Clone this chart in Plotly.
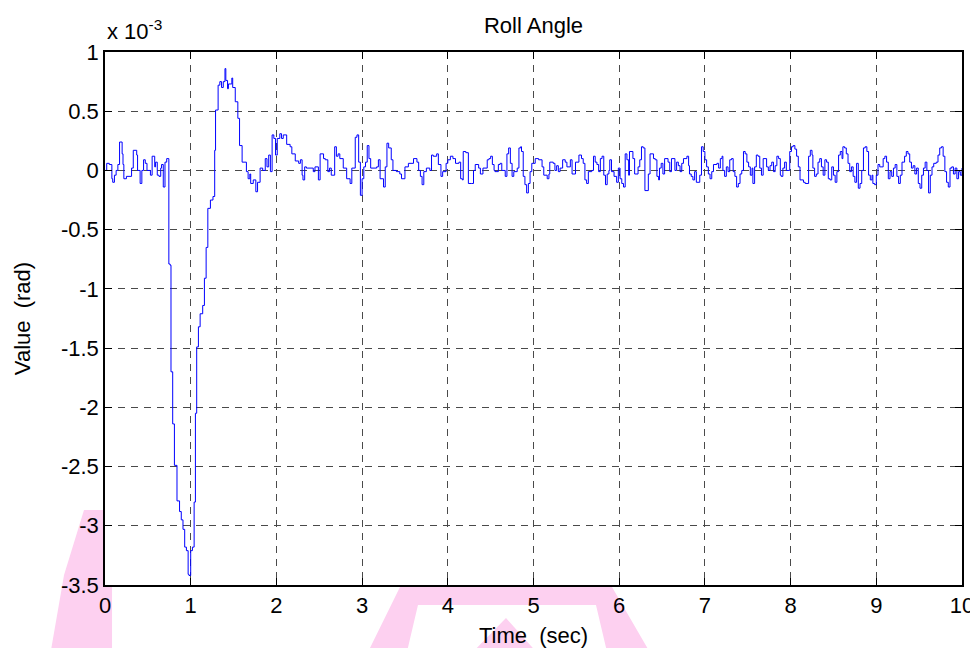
import plotly.graph_objects as go

# Time (s) and roll angle (units of 1e-3 rad)
time_s = [
    0.00, 0.02, 0.05, 0.08, 0.09, 0.11, 0.13, 0.15, 0.17, 0.20, 0.21, 0.22, 0.25, 0.31, 0.33,
    0.37, 0.38, 0.41, 0.43, 0.45, 0.47, 0.49, 0.53, 0.55, 0.58, 0.59, 0.61, 0.63, 0.65, 0.66,
    0.68, 0.70, 0.72, 0.745, 0.76, 0.77, 0.79, 0.81, 0.84, 0.87, 0.89, 0.91, 0.93, 0.95, 0.97,
    0.98, 1.00, 1.02, 1.04, 1.055, 1.07, 1.09, 1.11, 1.14, 1.16, 1.18, 1.20, 1.23, 1.26, 1.28,
    1.29, 1.32, 1.34, 1.36, 1.38, 1.40, 1.41, 1.43, 1.44, 1.48, 1.49, 1.52, 1.55, 1.57, 1.60,
    1.65, 1.67, 1.69, 1.70, 1.73, 1.76, 1.78, 1.81, 1.84, 1.87, 1.89, 1.91, 1.93, 1.95, 1.97,
    1.99,
    2.01, 2.04, 2.06, 2.08, 2.12, 2.16, 2.18, 2.22, 2.26, 2.28, 2.30, 2.31, 2.33, 2.35, 2.43,
    2.45, 2.49, 2.51, 2.55, 2.57, 2.60, 2.62, 2.64, 2.68, 2.70, 2.72, 2.74, 2.78, 2.82, 2.86,
    2.88, 2.92, 2.94, 2.96, 2.98, 3.00, 3.02, 3.04, 3.06, 3.08, 3.10, 3.17, 3.19, 3.21, 3.25,
    3.27, 3.29, 3.31, 3.34, 3.36, 3.40, 3.44, 3.46, 3.50, 3.54, 3.60, 3.64, 3.66, 3.68, 3.70,
    3.72, 3.75, 3.79, 3.81, 3.83, 3.87, 3.89, 3.92, 3.94, 3.98,
    4.00, 4.03, 4.06, 4.09, 4.13, 4.15, 4.17, 4.18, 4.21, 4.24, 4.28, 4.30, 4.32, 4.36, 4.38,
    4.41, 4.46, 4.48, 4.50, 4.52, 4.54, 4.55, 4.59, 4.61, 4.63, 4.67, 4.69, 4.71, 4.73, 4.75,
    4.77, 4.81, 4.83, 4.85, 4.86, 4.88, 4.90, 4.92, 4.94, 4.96, 4.98,
    5.02, 5.06, 5.10, 5.12, 5.16, 5.18, 5.19, 5.23, 5.25, 5.27, 5.29, 5.31, 5.34, 5.37, 5.39,
    5.43, 5.45, 5.49, 5.53, 5.56, 5.58, 5.60, 5.62, 5.64, 5.68, 5.70, 5.72, 5.74, 5.76, 5.78,
    5.80, 5.82, 5.84, 5.86, 5.88,
    5.89, 5.91, 5.94, 5.97, 5.99, 6.01, 6.03, 6.05, 6.07, 6.09, 6.11, 6.12, 6.16, 6.18, 6.22,
    6.24, 6.26, 6.28, 6.30, 6.34, 6.36, 6.40, 6.42, 6.44, 6.46, 6.47, 6.49, 6.51, 6.53, 6.57,
    6.59, 6.61, 6.65, 6.67, 6.69, 6.71, 6.73, 6.75, 6.79, 6.81, 6.82, 6.84, 6.86, 6.88, 6.90,
    6.94, 6.96, 6.98, 7.00, 7.02, 7.04, 7.06, 7.08, 7.10, 7.14, 7.16, 7.18, 7.20, 7.21, 7.23,
    7.25, 7.27, 7.29, 7.31, 7.33, 7.35, 7.37, 7.39, 7.41, 7.43, 7.45, 7.47, 7.49, 7.51, 7.53,
    7.55, 7.56, 7.58, 7.60, 7.62, 7.64, 7.66, 7.68, 7.72, 7.74, 7.76, 7.78, 7.80, 7.82, 7.84,
    7.86, 7.88, 7.89, 7.91, 7.93, 7.95,
    7.99, 8.01, 8.03, 8.05, 8.07, 8.09, 8.11, 8.15, 8.17, 8.21, 8.23, 8.25, 8.26, 8.28, 8.30,
    8.32, 8.34, 8.36, 8.38, 8.40, 8.42, 8.44, 8.46, 8.48, 8.50, 8.52, 8.54, 8.56, 8.58, 8.60,
    8.61, 8.63, 8.65, 8.67, 8.69, 8.71, 8.73, 8.75, 8.77, 8.79, 8.81, 8.83, 8.85, 8.87, 8.89,
    8.91, 8.93, 8.95, 8.96, 8.98, 9.00, 9.02, 9.04, 9.08, 9.10, 9.12, 9.14, 9.16, 9.18, 9.20,
    9.22, 9.24, 9.26, 9.28, 9.30, 9.33, 9.35, 9.37, 9.39, 9.41, 9.43, 9.45, 9.47, 9.49, 9.51,
    9.53, 9.55, 9.57, 9.59, 9.61, 9.63, 9.65, 9.67, 9.70, 9.72, 9.74, 9.76, 9.78, 9.80, 9.82,
    9.84, 9.86, 9.88, 9.90, 9.92, 9.94, 9.96, 9.98, 10.00,
]

roll_e3 = [
    0.00, 0.06, 0.05, -0.07, -0.10, -0.04, 0.00, 0.05, 0.24, 0.14, 0.05, -0.07, -0.05, 0.02, 0.17,
    0.13, 0.00, -0.11, 0.00, 0.09, 0.06, 0.00, -0.04, 0.12, 0.03, 0.07, -0.04, -0.05, 0.02, 0.05,
    -0.14, 0.07, 0.10, -0.79, -0.80, -1.70, -2.14, -2.49, -2.79, -2.88, -2.95, -3.03, -3.18, -3.21, -3.41,
    -3.42, -3.21, -3.18, -2.80, -2.05, -1.49, -1.32, -1.21, -1.14, -0.91, -0.65, -0.32, -0.25, -0.22, 0.17,
    0.51, 0.72, 0.75, 0.70, 0.75, 0.86, 0.76, 0.69, 0.73, 0.78, 0.70, 0.58, 0.44, 0.21, 0.07,
    -0.01, -0.07, -0.03, -0.11, -0.08, -0.18, -0.10, 0.02, 0.00, 0.10, 0.03, 0.13, -0.01, 0.30, 0.27,
    0.13,
    0.27, 0.31, 0.27, 0.30, 0.22, 0.20, 0.14, 0.08, 0.06, 0.09, -0.04, -0.08, 0.03, 0.02, -0.01,
    0.03, -0.08, 0.14, 0.10, 0.09, -0.01, 0.02, -0.04, 0.20, 0.12, 0.14, 0.10, 0.02, -0.07, -0.11,
    0.02, 0.28, 0.30, 0.07, -0.21, -0.07, 0.03, 0.07, 0.21, 0.10, 0.02, 0.03, 0.09, -0.07, -0.14,
    0.03, 0.23, 0.19, 0.09, 0.00, -0.01, -0.03, -0.07, 0.03, 0.06, 0.10, 0.07, 0.00, -0.05, -0.12,
    -0.01, 0.02, 0.00, 0.13, 0.12, 0.14, 0.05, -0.05, -0.01, 0.06,
    0.09, 0.12, 0.10, 0.06, 0.07, -0.07, -0.08, 0.16, 0.15, -0.11, -0.11, 0.00, 0.05, 0.02, -0.03,
    0.02, 0.09, 0.10, 0.12, 0.05, 0.00, -0.01, 0.05, 0.06, 0.00, -0.05, 0.14, 0.19, 0.06, -0.05,
    -0.01, 0.02, 0.19, 0.20, 0.16, -0.05, -0.12, -0.19, -0.11, -0.01, 0.06,
    0.10, 0.09, 0.03, -0.04, -0.07, -0.03, 0.07, 0.06, 0.00, 0.04, -0.01, 0.02, 0.09, 0.07, 0.03,
    0.09, -0.03, 0.07, 0.13, 0.10, 0.06, -0.08, -0.11, -0.01, 0.00, 0.12, 0.07, 0.05, -0.01, 0.10,
    0.12, -0.04, -0.12, -0.03, 0.00,
    0.09, -0.01, -0.05, -0.10, 0.02, -0.07, -0.11, -0.14, 0.14, 0.09, -0.04, 0.16, 0.10, -0.03, 0.03,
    0.09, 0.20, 0.19, -0.17, -0.03, 0.14, 0.10, 0.09, -0.05, -0.08, 0.02, 0.06, -0.03, 0.10, 0.07,
    -0.01, 0.10, 0.00, 0.07, 0.04, -0.01, 0.06, 0.10, 0.12, 0.04, -0.03, -0.05, -0.08, -0.01, -0.10,
    -0.04, 0.20, 0.16, 0.09, 0.03, -0.03, -0.07, -0.01, 0.05, 0.06, 0.02, 0.10, 0.12, 0.00, -0.05,
    0.03, -0.01, 0.09, 0.10, -0.01, -0.05, -0.14, -0.11, -0.03, 0.00, 0.16, 0.14, 0.07, 0.03, -0.04,
    0.02, -0.11, 0.03, 0.13, 0.12, 0.02, -0.04, 0.10, 0.03, 0.00, 0.04, 0.07, -0.01, 0.04, 0.12,
    0.10, -0.04, -0.05, 0.02, 0.07, 0.00,
    0.16, 0.20, 0.21, 0.18, 0.12, 0.03, -0.08, -0.10, -0.11, 0.12, 0.17, 0.13, 0.02, -0.05, -0.03,
    0.07, 0.10, 0.03, -0.04, 0.09, 0.07, -0.07, -0.08, 0.03, -0.04, -0.10, -0.01, 0.13, 0.16, 0.10,
    0.20, 0.19, 0.14, 0.06, -0.01, 0.03, -0.05, -0.10, 0.06, -0.15, -0.11, 0.00, 0.19, 0.20, 0.16,
    -0.04, -0.08, -0.04, -0.11, -0.12, -0.04, 0.05, 0.03, 0.10, 0.12, 0.07, -0.07, -0.01, -0.05, 0.02,
    0.05, -0.05, -0.11, -0.04, 0.07, 0.12, 0.16, 0.14, 0.07, 0.02, 0.04, -0.03, 0.02, -0.11, -0.15,
    -0.04, 0.02, 0.07, 0.00, -0.19, -0.04, 0.03, 0.06, 0.07, 0.13, 0.19, 0.20, 0.12, -0.01, -0.10,
    -0.14, 0.02, 0.03, -0.03, 0.02, -0.07, -0.01, -0.04, 0.02,
]

x_ticks = [0, 1, 2, 3, 4, 5, 6, 7, 8, 9, 10]
y_ticks = [1, 0.5, 0, -0.5, -1, -1.5, -2, -2.5, -3, -3.5]
y_tick_text = ["1", "0.5", "0", "-0.5", "-1", "-1.5", "-2", "-2.5", "-3", "-3.5"]

FONT = "Arial, Liberation Sans, Helvetica, sans-serif"

fig = go.Figure()
fig.add_trace(go.Scatter(
    x=time_s, y=roll_e3, mode="lines",
    line=dict(color="#0000FF", width=1, shape="hv"),
    showlegend=False, hoverinfo="skip",
))

# The page has an 8px body margin, so the figure is offset by 8px on screen.
OFF = 8
W, H = 978, 648
# desired on-screen plot-area edges
L, R, T, B = 105, 962, 52, 585
ml, mr, mt, mb = L - OFF, W - R + OFF, T - OFF, H - B + OFF

def px(x):
    return (x - L) / (R - L)
def py(y):
    return (B - y) / (B - T)

def path(points):
    return "M " + " L ".join(f"{px(a):.4f},{py(b):.4f}" for a, b in points) + " Z"

pink = "rgba(253,208,240,1)"
watermark = [
    [(50, 656), (64, 575), (84, 510), (105, 510), (105, 585), (112, 585), (112, 656)],
    [(366, 656), (400, 587), (612, 587), (652, 656), (608, 656), (596, 605), (418, 605), (406, 656)],
    [(469, 656), (506, 618), (540, 656)],
]
shapes = [dict(type="path", xref="paper", yref="paper", path=path(p),
               fillcolor=pink, line=dict(width=0), layer="below") for p in watermark]

fig.update_layout(
    width=W, height=H,
    margin=dict(l=ml, r=mr, t=mt, b=mb, autoexpand=False),
    paper_bgcolor="white", plot_bgcolor="white",
    font=dict(family=FONT, size=22, color="black"),
    title=dict(text="Roll Angle", x=(L - OFF + (R - OFF)) / 2 / W, xanchor="center",
               y=1 - (25 - OFF) / H, yanchor="middle", font=dict(size=22)),
    shapes=shapes,
    xaxis=dict(
        range=[0, 10], tickvals=x_ticks, ticktext=[str(v) for v in x_ticks],
        showline=True, linecolor="black", linewidth=1.5, mirror="ticks",
        ticks="inside", ticklen=7, tickcolor="black", tickwidth=1,
        showgrid=True, gridcolor="#4a4a4a", gridwidth=1, griddash="7px,6px",
        zeroline=False, tickfont=dict(size=22), automargin=False,
        title=dict(text="Time\u00a0\u00a0(sec)", standoff=10, font=dict(size=22)),
    ),
    yaxis=dict(
        range=[-3.5, 1], tickvals=y_ticks, ticktext=y_tick_text,
        showline=True, linecolor="black", linewidth=1.5, mirror="ticks",
        ticks="inside", ticklen=7, tickcolor="black", tickwidth=1,
        showgrid=True, gridcolor="#4a4a4a", gridwidth=1, griddash="7px,6px",
        zeroline=False, tickfont=dict(size=22), automargin=False,
        title=dict(text="Value\u00a0\u00a0(rad)", standoff=24, font=dict(size=22)),
    ),
    annotations=[dict(
        text="x 10<sup>-3</sup>", xref="paper", yref="paper",
        x=0, xanchor="left", y=1 + 22 / 533, yanchor="middle",
        showarrow=False, font=dict(size=22),
    )],
)

fig.write_html("out.html")
